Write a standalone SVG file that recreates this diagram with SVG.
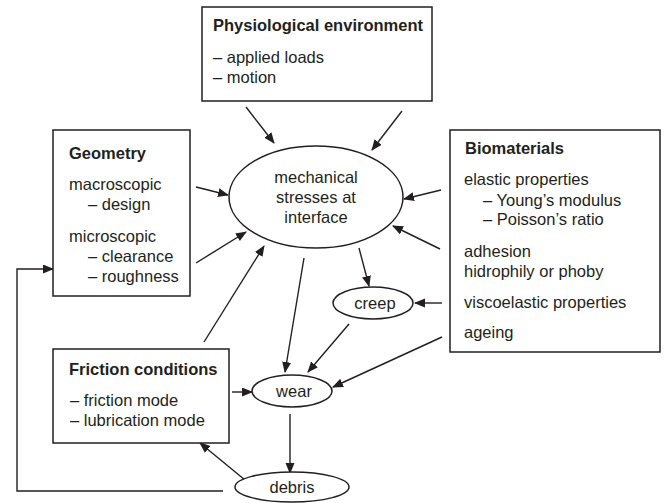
<svg xmlns="http://www.w3.org/2000/svg" width="668" height="503" viewBox="0 0 668 503">
<defs>
<marker id="ah" markerWidth="12" markerHeight="10" refX="10" refY="4.5" orient="auto" markerUnits="userSpaceOnUse"><path d="M0,0 L11,4.5 L0,9 z" fill="#231f20"/></marker>
<style>
text{font-family:"Liberation Sans",Arial,sans-serif;font-size:16.5px;fill:#231f20}
.b{font-weight:bold}
.m{text-anchor:middle}
.box{fill:#fff;stroke:#231f20;stroke-width:1.5}
.ell{fill:#fff;stroke:#231f20;stroke-width:1.5}
.c line,.c polyline{stroke:#231f20;stroke-width:1.4;fill:none;marker-end:url(#ah)}
</style>
</defs>
<rect width="668" height="503" fill="#fff"/>
<g class="c" id="connectors">
<line x1="246" y1="107" x2="274" y2="143"/>
<line x1="402" y1="111" x2="372" y2="150"/>
<line x1="196" y1="187" x2="228" y2="195"/>
<line x1="196" y1="263" x2="246" y2="232"/>
<line x1="204" y1="342" x2="264" y2="246"/>
<line x1="441" y1="190" x2="404" y2="199"/>
<line x1="440" y1="249" x2="393" y2="226"/>
<line x1="359" y1="248" x2="369" y2="286"/>
<line x1="304" y1="258" x2="285" y2="372"/>
<line x1="442" y1="303" x2="415" y2="303"/>
<line x1="349" y1="324" x2="308" y2="372"/>
<line x1="442" y1="337" x2="333" y2="387"/>
<line x1="232" y1="392" x2="252" y2="392"/>
<line x1="290" y1="414" x2="290" y2="473"/>
<line x1="245" y1="480" x2="200" y2="443"/>
<polyline points="223,491 17,491 17,269 53,269"/>
</g>
<g id="physiological">
<rect class="box" x="202" y="7" width="230" height="94"/>
<text class="b" x="213" y="31">Physiological environment</text>
<text x="213" y="63">– applied loads</text>
<text x="213" y="83">– motion</text>
</g>
<g id="geometry">
<rect class="box" x="53" y="130" width="137" height="166"/>
<text class="b" x="69" y="159">Geometry</text>
<text x="69" y="190">macroscopic</text>
<text x="88" y="210">– design</text>
<text x="69" y="242">microscopic</text>
<text x="88" y="262">– clearance</text>
<text x="88" y="282">– roughness</text>
</g>
<g id="biomaterials">
<rect class="box" x="450" y="130" width="210" height="222"/>
<text class="b" x="465" y="154">Biomaterials</text>
<text x="464" y="185">elastic properties</text>
<text x="483" y="206">– Young’s modulus</text>
<text x="483" y="225">– Poisson’s ratio</text>
<text x="464" y="257">adhesion</text>
<text x="464" y="277">hidrophily or phoby</text>
<text x="464" y="308">viscoelastic properties</text>
<text x="464" y="338">ageing</text>
</g>
<g id="friction">
<rect class="box" x="53" y="349" width="176" height="94"/>
<text class="b" x="69" y="375">Friction conditions</text>
<text x="70" y="406">– friction mode</text>
<text x="70" y="426">– lubrication mode</text>
</g>
<g id="mechanical">
<ellipse class="ell" cx="316" cy="197" rx="87" ry="51"/>
<text class="m" x="316" y="183">mechanical</text>
<text class="m" x="316" y="203">stresses at</text>
<text class="m" x="316" y="223">interface</text>
</g>
<g id="creep">
<ellipse class="ell" cx="373" cy="303" rx="40" ry="16"/>
<text class="m" x="375" y="309">creep</text>
</g>
<g id="wear">
<ellipse class="ell" cx="292" cy="391" rx="40" ry="16"/>
<text class="m" x="294" y="397">wear</text>
</g>
<g id="debris">
<ellipse class="ell" cx="292" cy="487" rx="57" ry="15"/>
<text class="m" x="292" y="493">debris</text>
</g>
</svg>
